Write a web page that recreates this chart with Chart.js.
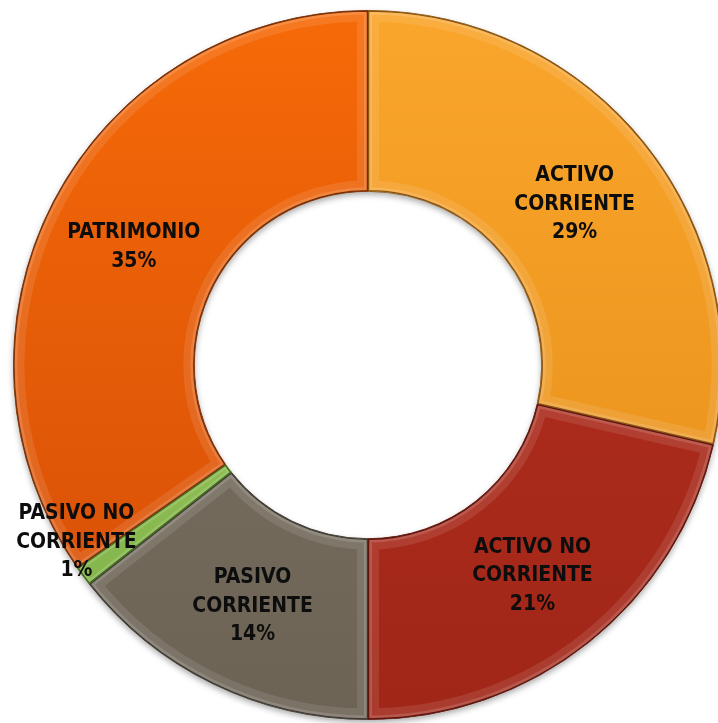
<!DOCTYPE html>
<html>
<head>
<meta charset="utf-8">
<script src="https://cdn.jsdelivr.net/npm/chart.js@4.4.1/dist/chart.umd.min.js"></script>
<style>
  html, body { margin: 0; padding: 0; background: #ffffff; overflow: hidden; width: 718px; height: 723px; }
  #wrap { position: absolute; left: 0; top: 0; width: 736px; height: 730px; }
</style>
</head>
<body>
<div id="wrap"><canvas id="c"></canvas></div>
<script>
const categories = ["ACTIVO CORRIENTE", "ACTIVO NO CORRIENTE", "PASIVO CORRIENTE", "PASIVO NO CORRIENTE", "PATRIMONIO"];
const labelLines = [["ACTIVO", "CORRIENTE"], ["ACTIVO NO", "CORRIENTE"], ["PASIVO", "CORRIENTE"], ["PASIVO NO", "CORRIENTE"], ["PATRIMONIO"]];
const values = [28.6, 21.4, 14.4, 0.9, 34.7];
const percentLabels = ["29%", "21%", "14%", "1%", "35%"];

const topColors = ["#FAA52B", "#B8311F", "#80776A", "#9CD056", "#F66A08"];
const bottomColors = ["#E48D18", "#A02618", "#6C6355", "#6FA632", "#D34C07"];
const edgeColors = ["#8A5410", "#5E150C", "#3E3830", "#3F6A18", "#7A2E04"];

function segGradient(ctx) {
  const chart = ctx.chart;
  const area = chart.chartArea;
  if (!area) return topColors[ctx.dataIndex];
  const g = chart.ctx.createLinearGradient(0, area.top, 0, area.bottom);
  g.addColorStop(0, topColors[ctx.dataIndex]);
  g.addColorStop(1, bottomColors[ctx.dataIndex]);
  return g;
}

const bevelPlugin = {
  id: 'bevel',
  beforeDatasetDraw(chart) {
    // soft shadow under the ring
    const ctx = chart.ctx;
    const meta = chart.getDatasetMeta(0);
    const a = meta.data[0];
    if (!a) return;
    const p = a.getProps(['x', 'y', 'innerRadius', 'outerRadius'], true);
    ctx.save();
    ctx.beginPath();
    ctx.arc(p.x, p.y, p.outerRadius, 0, Math.PI * 2);
    ctx.arc(p.x, p.y, p.innerRadius, Math.PI * 2, 0, true);
    ctx.closePath();
    ctx.shadowColor = 'rgba(0,0,0,0.35)';
    ctx.shadowBlur = 6;
    ctx.shadowOffsetY = 3;
    ctx.fillStyle = '#ffffff';
    ctx.fill();
    ctx.restore();
  },
  afterDatasetDraw(chart) {
    const ctx = chart.ctx;
    const meta = chart.getDatasetMeta(0);
    meta.data.forEach((arc, i) => {
      const p = arc.getProps(['x', 'y', 'startAngle', 'endAngle', 'innerRadius', 'outerRadius'], true);
      ctx.save();
      ctx.beginPath();
      ctx.arc(p.x, p.y, p.outerRadius, p.startAngle, p.endAngle);
      ctx.arc(p.x, p.y, p.innerRadius, p.endAngle, p.startAngle, true);
      ctx.closePath();
      ctx.clip();
      ctx.lineJoin = 'miter';
      ctx.strokeStyle = 'rgba(255,255,255,0.10)';
      ctx.lineWidth = 22;
      ctx.stroke();
      ctx.strokeStyle = 'rgba(255,255,255,0.14)';
      ctx.lineWidth = 8;
      ctx.stroke();
      ctx.strokeStyle = edgeColors[i];
      ctx.lineWidth = 2.5;
      ctx.stroke();
      ctx.restore();
    });
  },
  afterDraw(chart) {
    const ctx = chart.ctx;
    const meta = chart.getDatasetMeta(0);
    ctx.save();
    ctx.fillStyle = '#0d0d0d';
    ctx.textAlign = 'center';
    ctx.textBaseline = 'middle';
    ctx.font = 'bold 21px "DejaVu Sans Condensed", "DejaVu Sans", sans-serif';
    const lineH = 28.5;
    meta.data.forEach((arc, i) => {
      const p = arc.getProps(['x', 'y', 'startAngle', 'endAngle', 'innerRadius', 'outerRadius'], true);
      const mid = (p.startAngle + p.endAngle) / 2;
      const r = (p.innerRadius + p.outerRadius) / 2;
      let cx = p.x + Math.cos(mid) * r;
      let cy = p.y + Math.sin(mid) * r + 4;
      if (values[i] < 3) {
        cx = p.x + Math.cos(mid) * p.outerRadius * 0.82 - 58;
        cy = p.y + Math.sin(mid) * p.outerRadius * 0.82 + 4;
      }
      const lines = labelLines[i].concat([percentLabels[i]]);
      const y0 = cy - (lines.length - 1) * lineH / 2;
      lines.forEach((t, k) => ctx.fillText(t, cx, y0 + k * lineH));
    });
    ctx.restore();
  }
};

new Chart(document.getElementById('c'), {
  type: 'doughnut',
  data: {
    labels: categories,
    datasets: [{
      data: values,
      backgroundColor: segGradient,
      borderColor: edgeColors,
      borderWidth: 1,
      borderJoinStyle: 'miter'
    }]
  },
  options: {
    responsive: true,
    maintainAspectRatio: false,
    animation: false,
    cutout: '49%',
    rotation: 0,
    layout: { padding: 10 },
    plugins: {
      legend: { display: false },
      tooltip: { enabled: false }
    }
  },
  plugins: [bevelPlugin]
});
</script>
</body>
</html>
